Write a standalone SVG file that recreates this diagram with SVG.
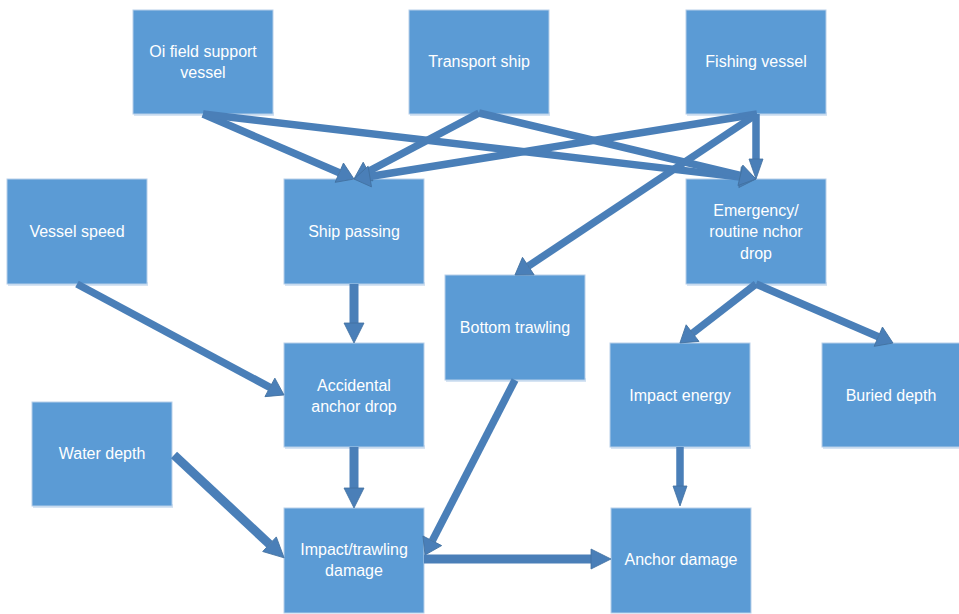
<svg xmlns="http://www.w3.org/2000/svg" width="959" height="614" viewBox="0 0 959 614">
<style>
.box{fill:#5b9bd5;stroke:#b7cfe9;stroke-width:1}
.shadow{fill:#d6e4f3}
.lbl{font-family:"Liberation Sans",Arial,sans-serif;font-size:16px;fill:#ffffff;text-anchor:middle}
.c{fill:none;stroke:#4a7fb8;stroke-linecap:butt}
.n{stroke-width:7.5}
.w{stroke-width:9}
</style>
<defs>
<marker id="ah" markerUnits="userSpaceOnUse" viewBox="0 -11 17 22" refX="0" refY="0" markerWidth="17" markerHeight="22" orient="auto" overflow="visible">
<path d="M0,-10.5 L16,0 L0,10.5 Z" fill="#4a7fb8" stroke="#41709f" stroke-width="0.8"/>
</marker>
<marker id="ahl" markerUnits="userSpaceOnUse" viewBox="0 -11 21 22" refX="0" refY="0" markerWidth="21" markerHeight="22" orient="auto" overflow="visible">
<path d="M0,-10 L20,0 L0,10 Z" fill="#4a7fb8" stroke="#41709f" stroke-width="0.8"/>
</marker>
<marker id="ahs" markerUnits="userSpaceOnUse" viewBox="0 -8 21 16" refX="0" refY="0" markerWidth="21" markerHeight="16" orient="auto" overflow="visible">
<path d="M0,-7 L20,0 L0,7 Z" fill="#4a7fb8" stroke="#41709f" stroke-width="0.8"/>
</marker>
</defs>
<rect width="959" height="614" fill="#ffffff"/>

<g id="oil"><rect class="shadow" x="134" y="112" width="140" height="4"/><rect class="box" x="133" y="10" width="140" height="104"/><text class="lbl" x="203" y="57">Oi field support</text><text class="lbl" x="203" y="78">vessel</text></g>
<g id="transport"><rect class="shadow" x="410" y="112" width="140" height="4"/><rect class="box" x="409" y="10" width="140" height="104"/><text class="lbl" x="479" y="67">Transport ship</text></g>
<g id="fishing"><rect class="shadow" x="687" y="112" width="140" height="4"/><rect class="box" x="686" y="10" width="140" height="104"/><text class="lbl" x="756" y="67">Fishing vessel</text></g>
<g id="speed"><rect class="shadow" x="8" y="282" width="140" height="4"/><rect class="box" x="7" y="179" width="140" height="105"/><text class="lbl" x="77" y="237">Vessel speed</text></g>
<g id="passing"><rect class="shadow" x="285" y="282" width="140" height="4"/><rect class="box" x="284" y="179" width="140" height="105"/><text class="lbl" x="354" y="237">Ship passing</text></g>
<g id="emergency"><rect class="shadow" x="687" y="282" width="140" height="4"/><rect class="box" x="686" y="179" width="140" height="105"/><text class="lbl" x="756" y="216">Emergency/</text><text class="lbl" x="756" y="237">routine nchor</text><text class="lbl" x="756" y="259">drop</text></g>
<g id="trawling"><rect class="shadow" x="446" y="378" width="140" height="4"/><rect class="box" x="445" y="275" width="140" height="105"/><text class="lbl" x="515" y="333">Bottom trawling</text></g>
<g id="accidental"><rect class="shadow" x="285" y="445" width="140" height="4"/><rect class="box" x="284" y="343" width="140" height="104"/><text class="lbl" x="354" y="391">Accidental</text><text class="lbl" x="354" y="412">anchor drop</text></g>
<g id="energy"><rect class="shadow" x="611" y="445" width="140" height="4"/><rect class="box" x="610" y="343" width="140" height="104"/><text class="lbl" x="680" y="401">Impact energy</text></g>
<g id="buried"><rect class="shadow" x="823" y="445" width="140" height="4"/><rect class="box" x="822" y="343" width="140" height="104"/><text class="lbl" x="891" y="401">Buried depth</text></g>
<g id="water"><rect class="shadow" x="33" y="504" width="140" height="4"/><rect class="box" x="32" y="402" width="140" height="104"/><text class="lbl" x="102" y="459">Water depth</text></g>
<g id="impact"><rect class="box" x="284" y="508" width="140" height="105"/><text class="lbl" x="354" y="555">Impact/trawling</text><text class="lbl" x="354" y="576">damage</text></g>
<g id="anchordamage"><rect class="box" x="611" y="508" width="140" height="105"/><text class="lbl" x="681" y="565">Anchor damage</text></g>

<g id="connectors">
<path class="c n" d="M203,114 L339.3,172.7" marker-end="url(#ah)"/>
<path class="c n" d="M203,114 L740.1,177.1" marker-end="url(#ah)"/>
<path class="c n" d="M479,113 L368.1,171.5" marker-end="url(#ah)"/>
<path class="c n" d="M479,113 L740.4,175.3" marker-end="url(#ah)"/>
<path class="c n" d="M757,114 L369.8,176.5" marker-end="url(#ah)"/>
<path class="c n" d="M756,114 L756,159" marker-end="url(#ahs)"/>
<path class="c n" d="M757,114 L528.3,266.1" marker-end="url(#ah)"/>
<path class="c w" d="M354,284 L354,323" marker-end="url(#ahl)"/>
<path class="c n" d="M77,284 L269.9,387.4" marker-end="url(#ah)"/>
<path class="c w" d="M174,455 L269.5,544.2" marker-end="url(#ahl)"/>
<path class="c w" d="M354,447 L354,488" marker-end="url(#ahl)"/>
<path class="c n" d="M515,380 L432.3,540.8" marker-end="url(#ah)"/>
<path class="c w" d="M424,559 L591,559" marker-end="url(#ahl)"/>
<path class="c n" d="M756,284 L692.6,333.1" marker-end="url(#ah)"/>
<path class="c n" d="M756,284 L878.3,336.7" marker-end="url(#ah)"/>
<path class="c n" d="M680,447 L680,486" marker-end="url(#ahs)"/>
</g>
</svg>
